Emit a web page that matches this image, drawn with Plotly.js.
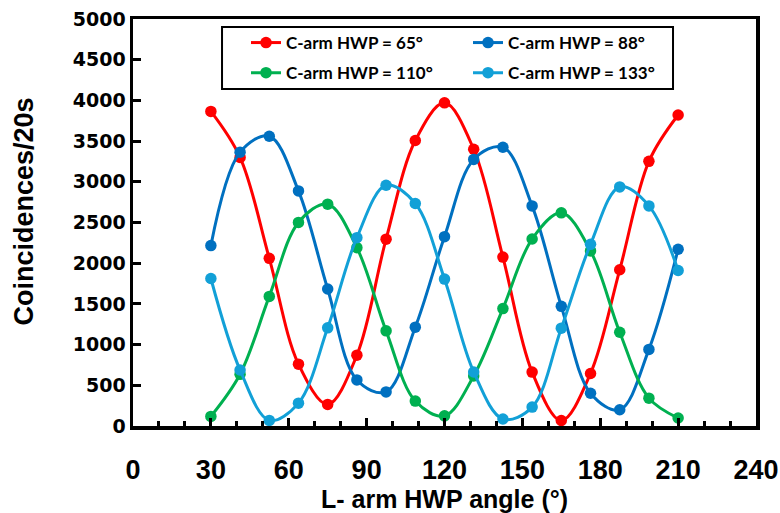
<!DOCTYPE html>
<html>
<head>
<meta charset="utf-8">
<script src="https://cdn.plot.ly/plotly-3.0.1.min.js"></script>
<style>html,body{margin:0;padding:0;background:#fff;}#chart{width:780px;height:513px;}</style>
</head>
<body>
<div id="chart"></div>
<script>
// L-arm HWP angles (degrees)
const angles = [30, 41.25, 52.5, 63.75, 75, 86.25, 97.5, 108.75, 120, 131.25, 142.5, 153.75, 165, 176.25, 187.5, 198.75, 210];
// Coincidences/20s for each C-arm HWP setting
const hwp65  = [3865, 3300, 2060, 760, 265, 870, 2295, 3507, 3970, 3400, 2075, 662, 67, 645, 1919, 3251, 3821];
const hwp88  = [2216, 3364, 3560, 2888, 1683, 566, 419, 1214, 2326, 3275, 3425, 2704, 1470, 403, 199, 941, 2171];
const hwp110 = [118, 635, 1592, 2501, 2725, 2191, 1169, 306, 125, 615, 1442, 2297, 2619, 2151, 1152, 342, 98];
const hwp133 = [1812, 688, 69, 281, 1206, 2314, 2957, 2733, 1805, 664, 86, 232, 1202, 2232, 2937, 2704, 1910];
const seriesNames = ['C-arm HWP = 65°', 'C-arm HWP = 88°', 'C-arm HWP = 110°', 'C-arm HWP = 133°'];
const seriesColors = ['#FF0000', '#0070C0', '#00B050', '#12A0D7'];
const seriesLegend = ['legend', 'legend', 'legend2', 'legend2'];
const xTickVals = [0, 30, 60, 90, 120, 150, 180, 210, 240];
const yTickVals = [0, 500, 1000, 1500, 2000, 2500, 3000, 3500, 4000, 4500, 5000];

const allSeries = [hwp65, hwp88, hwp110, hwp133];
const traces = allSeries.map((ys, i) => ({
  x: angles,
  y: ys,
  name: seriesNames[i],
  legend: seriesLegend[i],
  type: 'scatter',
  mode: 'lines+markers',
  line: {color: seriesColors[i], width: 3, shape: 'spline', smoothing: 1},
  marker: {color: seriesColors[i], size: 11.5}
}));

const legendFont = {family: 'Lato', size: 17, color: '#000', weight: 'bold'};
const layout = {
  width: 780, height: 513,
  margin: {l: 133, r: 24, t: 19, b: 87},
  paper_bgcolor: '#ffffff', plot_bgcolor: '#ffffff',
  showlegend: true,
  legend: {
    orientation: 'h', x: 0.1814, xanchor: 'left', y: 0.941, yanchor: 'middle',
    borderwidth: 0, bgcolor: 'rgba(0,0,0,0)', entrywidth: 177, font: legendFont
  },
  legend2: {
    orientation: 'h', x: 0.1814, xanchor: 'left', y: 0.867, yanchor: 'middle',
    borderwidth: 0, bgcolor: 'rgba(0,0,0,0)', entrywidth: 177, font: legendFont
  },
  shapes: [{
    type: 'rect', xref: 'paper', yref: 'paper',
    x0: 0.1429, x1: 0.8668, y0: 0.828, y1: 0.9803,
    line: {color: '#000', width: 2}, fillcolor: '#fff', layer: 'below'
  }],
  annotations: [{
    text: 'Coincidences/20s', xref: 'paper', yref: 'paper',
    x: -0.175, y: 0.527, xanchor: 'center', yanchor: 'middle',
    textangle: -90, showarrow: false,
    font: {family: 'Liberation Sans', size: 27, color: '#000', weight: 'bold'}
  }],
  xaxis: {
    range: [0, 240], tickvals: xTickVals, ticktext: xTickVals.map(String),
    showgrid: false, zeroline: false,
    showline: true, linecolor: '#000', linewidth: 3.5, mirror: true,
    ticks: 'inside', ticklen: 8, tickwidth: 3, tickcolor: '#000',
    minor: {dtick: 10, ticks: 'inside', ticklen: 5, tickwidth: 3, tickcolor: '#000', showgrid: false},
    ticklabelstandoff: 17,
    tickfont: {family: 'Liberation Sans', size: 27, color: '#000', weight: 'bold'},
    title: {text: 'L- arm HWP angle (°)', standoff: 9, font: {family: 'Liberation Sans', size: 25, color: '#000', weight: 'bold'}}
  },
  yaxis: {
    range: [0, 5000], tickvals: yTickVals, ticktext: yTickVals.map(String),
    showgrid: false, zeroline: false,
    showline: true, linecolor: '#000', linewidth: 3.5, mirror: true,
    ticks: 'inside', ticklen: 8, tickwidth: 3, tickcolor: '#000',
    tickfont: {family: 'DejaVu Sans', size: 19, color: '#000', weight: 'bold'}
  }
};

Plotly.newPlot('chart', traces, layout, {displayModeBar: false, staticPlot: true});
</script>
</body>
</html>
